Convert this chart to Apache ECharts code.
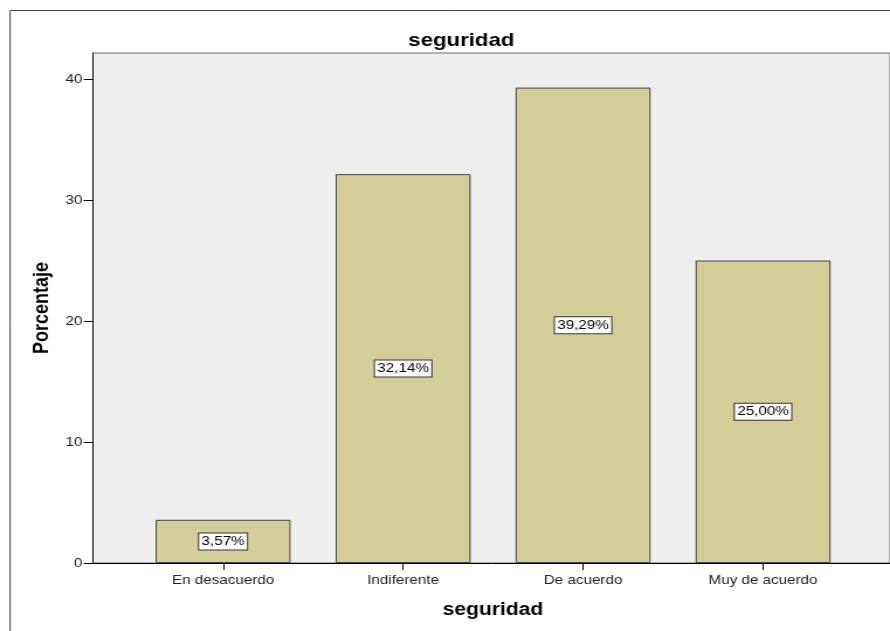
<!DOCTYPE html>
<html>
<head>
<meta charset="utf-8">
<script src="https://cdn.jsdelivr.net/npm/echarts@6/dist/echarts.min.js"></script>
<style>
html,body{margin:0;padding:0;background:#fff;overflow:hidden;}
#wrap{width:890px;height:631px;overflow:hidden;}
/* the chart is laid out narrower and widened horizontally, giving the stretched text look */
#chart{width:761px;height:631px;transform:scaleX(1.1695);transform-origin:0 0;}
</style>
</head>
<body>
<div id="wrap"><div id="chart"></div></div>
<script>
// Response categories and percentage of respondents for "seguridad"
const categories = ['En desacuerdo', 'Indiferente', 'De acuerdo', 'Muy de acuerdo'];
const percentages = [3.57, 32.14, 39.29, 25.00];
const yTicks = [0, 10, 20, 30, 40];

const FONT = '"Liberation Sans", Arial, sans-serif';
const Y_MAX = 42.15;

const chart = echarts.init(document.getElementById('chart'), null, {renderer: 'canvas'});

const fmtPct = v => v.toFixed(2).replace('.', ',') + '%';

chart.setOption({
  animation: false,
  textStyle: {fontFamily: FONT},
  title: {
    text: 'seguridad',
    left: 389.5, top: 26, textAlign: 'center',
    textStyle: {fontFamily: FONT, fontSize: 19, fontWeight: 'bold', color: '#000'}
  },
  graphic: [
    {
      type: 'rect', z: -10,
      shape: {x: 8.6, y: 10.5, width: 800, height: 660},
      style: {fill: 'none', stroke: '#444', lineWidth: 1}
    }
  ],
  grid: [
    // frame with the percentage scale and background
    {left: 79.5, top: 53, right: -30, bottom: 68, show: true,
     backgroundColor: '#eeeeee', borderColor: '#6a6a6a', borderWidth: 1},
    // bar area
    {left: 113.8, top: 53, width: 615.6, bottom: 68}
  ],
  xAxis: [
    {
      gridIndex: 0, type: 'value', min: 0, max: 1,
      axisLine: {show: true, onZero: false, lineStyle: {color: '#000', width: 1}},
      axisTick: {show: false}, axisLabel: {show: false}, splitLine: {show: false}
    },
    {
      gridIndex: 1, type: 'category', data: categories,
      axisLine: {show: false},
      axisTick: {show: true, alignWithLabel: true, length: 7, lineStyle: {color: '#000'}},
      axisLabel: {fontFamily: FONT, fontSize: 13, color: '#222', margin: 11},
      name: 'seguridad', nameLocation: 'middle', nameGap: 38,
      nameTextStyle: {fontFamily: FONT, fontSize: 18, fontWeight: 'bold', color: '#000'}
    }
  ],
  yAxis: [
    {
      gridIndex: 0, type: 'value', min: 0, max: Y_MAX, interval: 10,
      axisLine: {show: true, lineStyle: {color: '#000', width: 1}},
      axisTick: {show: true, length: 8, lineStyle: {color: '#000'},
                 customValues: yTicks},
      axisLabel: {fontFamily: FONT, fontSize: 13, color: '#222', margin: 9,
                  customValues: yTicks},
      splitLine: {show: false},
      name: 'Porcentaje', nameLocation: 'middle', nameGap: 31,
      nameTextStyle: {fontFamily: FONT, fontSize: 18, fontWeight: 'bold', color: '#000'}
    },
    {
      gridIndex: 1, type: 'value', min: 0, max: Y_MAX,
      show: false
    }
  ],
  series: [{
    type: 'bar',
    xAxisIndex: 1, yAxisIndex: 1,
    data: percentages,
    barWidth: 115.4,
    itemStyle: {color: '#d3ce97', borderColor: '#444', borderWidth: 1},
    label: {
      show: true, position: 'inside',
      formatter: p => fmtPct(p.value),
      fontFamily: FONT, fontSize: 13, color: '#000',
      backgroundColor: '#fff', borderColor: '#333', borderWidth: 1,
      padding: [2, 2, 1, 2]
    }
  }]
});
</script>
</body>
</html>
